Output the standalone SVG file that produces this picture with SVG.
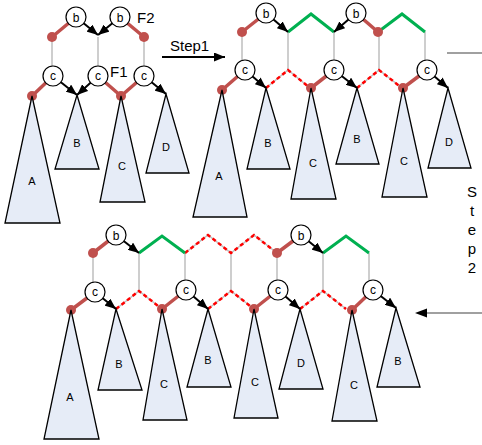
<svg xmlns="http://www.w3.org/2000/svg" width="482" height="445" viewBox="0 0 482 445">
  <style>
    .grid { stroke: #bfbfbf; stroke-width: 1.5; fill: none; }
    .dash { stroke: #ff0000; stroke-width: 2.5; stroke-dasharray: 4 3; fill: none; }
    .red { stroke: #c0504d; stroke-width: 3.5; fill: none; stroke-linecap: round; }
    .green { stroke: #00b050; stroke-width: 3; fill: none; stroke-linejoin: miter; }
    .arr { stroke: #000; stroke-width: 2; fill: none; marker-end: url(#head); }
    .dot { fill: #c0504d; }
    .tri { fill: #e6ecf7; stroke: #000; stroke-width: 1.3; stroke-linejoin: miter; }
    .node { fill: #fff; stroke: #000; stroke-width: 1.2; }
    .lbl { font-family: "Liberation Sans", Arial, sans-serif; font-size: 11px; text-anchor: middle; fill: #000; }
    .nt { font-family: "Liberation Sans", Arial, sans-serif; font-size: 12px; text-anchor: middle; fill: #000; }
    .big { font-family: "Liberation Sans", Arial, sans-serif; font-size: 15px; fill: #000; }
    .step { font-family: "Liberation Sans", Arial, sans-serif; font-size: 15px; text-anchor: middle; fill: #000; }
  </style>
  <defs>
    <marker id="head" markerUnits="userSpaceOnUse" markerWidth="11" markerHeight="9" refX="11" refY="4.5" orient="auto">
      <path d="M0,0 L11,4.5 L0,9 z" fill="#000"/>
    </marker>
  </defs>
  <rect width="482" height="445" fill="#fff"/>

  <g id="connectors">
    <!-- forest before step 1 -->
    <path class="grid" d="M52,37 V66 M98,37 V66 M144,37 V66"/>
    <path class="red" d="M76,17 L52,37 M120,17 L144,37 M53,76 L32,96 M98,76 L121,96 M144,76 L121,96"/>
    <path class="arr" d="M76,17 L98,35"/>
    <path class="arr" d="M120,17 L98,35"/>
    <path class="arr" d="M53,76 L77,95"/>
    <path class="arr" d="M98,76 L77,95"/>
    <path class="arr" d="M144,76 L166,94"/>
    <circle class="dot" cx="52" cy="37" r="5"/>
    <circle class="dot" cx="144" cy="37" r="5"/>
    <circle class="dot" cx="32" cy="96" r="5"/>
    <circle class="dot" cx="121" cy="96" r="5"/>

    <!-- forest after step 1 -->
    <path class="grid" d="M242,32 V60 M288,32 V70 M334,32 V60 M379,32 V70 M425,32 V60"/>
    <path class="grid" d="M266,88 L288,70 L310,88 M357,88 L379,70 L402,88 M378,32 L402,14 L425,32"/>
    <path class="dash" d="M266,88 L288,70 L310,88 M357,88 L379,70 L402,88"/>
    <path class="red" d="M266,13 L242,32 M356,13 L378,32 M245,70 L222,90 M334,70 L311,88 M427,70 L403,88"/>
    <path class="green" d="M288,32 L311,14 L334,32 M378,32 L402,14 L425,32"/>
    <path class="arr" d="M266,13 L288,32"/>
    <path class="arr" d="M356,13 L334,32"/>
    <path class="arr" d="M245,70 L266,88"/>
    <path class="arr" d="M334,70 L357,88"/>
    <path class="arr" d="M427,70 L448,88"/>
    <circle class="dot" cx="242" cy="32" r="5"/>
    <circle class="dot" cx="378" cy="32" r="5"/>
    <circle class="dot" cx="222" cy="90" r="5"/>
    <circle class="dot" cx="311" cy="88" r="5"/>
    <circle class="dot" cx="403" cy="88" r="5"/>

    <!-- forest after step 2 -->
    <path class="grid" d="M93,253 V282 M139,253 V291 M185,253 V280 M231,253 V291 M277,253 V280 M323,253 V291 M369,253 V280"/>
    <path class="grid" d="M185,253 L208,235 L231,253 L254,235 L277,253 M116,309 L139,291 L162,309 M208,309 L231,291 L254,309 M300,309 L323,291 L346,309"/>
    <path class="dash" d="M185,253 L208,235 L231,253 L254,235 L277,253 M116,309 L139,291 L162,309 M208,309 L231,291 L254,309 M300,309 L323,291 L346,309"/>
    <path class="red" d="M116,235 L93,253 M301,235 L277,253 M95,292 L71,310 M186,290 L162,309 M278,290 L254,309 M373,290 L352,310"/>
    <path class="green" d="M139,253 L162,236 L185,253 M323,253 L346,236 L369,253"/>
    <path class="arr" d="M116,235 L139,253"/>
    <path class="arr" d="M301,235 L323,253"/>
    <path class="arr" d="M95,292 L116,309"/>
    <path class="arr" d="M186,290 L208,309"/>
    <path class="arr" d="M278,290 L300,309"/>
    <path class="arr" d="M373,290 L396,308"/>
    <circle class="dot" cx="93" cy="253" r="5"/>
    <circle class="dot" cx="277" cy="253" r="5"/>
    <circle class="dot" cx="71" cy="310" r="5"/>
    <circle class="dot" cx="162" cy="309" r="5"/>
    <circle class="dot" cx="254" cy="309" r="5"/>
    <circle class="dot" cx="352" cy="310" r="5"/>

    <!-- step arrows -->
    <path class="arr" d="M162,57 L225,57" stroke-width="1.5"/>
    <path d="M447,53 H482" stroke="#808080" stroke-width="1.5"/>
    <path d="M482,313 H425" stroke="#808080" stroke-width="1.5"/>
    <path d="M415,313 L427,308.5 L427,317.5 z" fill="#000"/>
  </g>

  <!-- subtrees, first forest -->
  <g id="t1A"><path class="tri" d="M32,96 L60,223 L5,223 z"/><text class="lbl" x="32" y="185">A</text></g>
  <g id="t1B"><path class="tri" d="M77,95 L99,169 L55,169 z"/><text class="lbl" x="77" y="147">B</text></g>
  <g id="t1C"><path class="tri" d="M121,96 L145,202 L100,202 z"/><text class="lbl" x="122" y="170">C</text></g>
  <g id="t1D"><path class="tri" d="M166,94 L189,173 L146,173 z"/><text class="lbl" x="166" y="151">D</text></g>

  <!-- subtrees, second forest -->
  <g id="t2A"><path class="tri" d="M222,90 L247,217 L193,217 z"/><text class="lbl" x="219" y="180">A</text></g>
  <g id="t2B"><path class="tri" d="M266,88 L290,169 L247,169 z"/><text class="lbl" x="268" y="147">B</text></g>
  <g id="t2C"><path class="tri" d="M311,88 L336,199 L291,199 z"/><text class="lbl" x="313" y="167">C</text></g>
  <g id="t2B2"><path class="tri" d="M357,88 L379,164 L336,164 z"/><text class="lbl" x="357" y="143">B</text></g>
  <g id="t2C2"><path class="tri" d="M403,88 L427,197 L382,197 z"/><text class="lbl" x="404" y="165">C</text></g>
  <g id="t2D"><path class="tri" d="M448,88 L471,168 L428,168 z"/><text class="lbl" x="449" y="146">D</text></g>

  <!-- subtrees, third forest -->
  <g id="t3A"><path class="tri" d="M71,310 L99,439 L44,439 z"/><text class="lbl" x="70" y="401">A</text></g>
  <g id="t3B"><path class="tri" d="M116,309 L142,390 L98,390 z"/><text class="lbl" x="119" y="368">B</text></g>
  <g id="t3C"><path class="tri" d="M162,309 L187,420 L143,420 z"/><text class="lbl" x="164" y="388">C</text></g>
  <g id="t3B2"><path class="tri" d="M208,309 L231,387 L187,387 z"/><text class="lbl" x="208" y="364">B</text></g>
  <g id="t3C2"><path class="tri" d="M254,309 L278,418 L234,418 z"/><text class="lbl" x="255" y="386">C</text></g>
  <g id="t3D"><path class="tri" d="M300,309 L323,389 L279,389 z"/><text class="lbl" x="301" y="367">D</text></g>
  <g id="t3C3"><path class="tri" d="M352,310 L377,421 L332,421 z"/><text class="lbl" x="354" y="389">C</text></g>
  <g id="t3B3"><path class="tri" d="M396,308 L420,387 L377,387 z"/><text class="lbl" x="398" y="365">B</text></g>

  <!-- tree nodes, first forest -->
  <g id="n1b1"><circle class="node" cx="76" cy="17" r="10"/><text class="nt" x="76" y="21.5">b</text></g>
  <g id="n1b2"><circle class="node" cx="120" cy="17" r="10"/><text class="nt" x="120" y="21.5">b</text></g>
  <g id="n1c1"><circle class="node" cx="53" cy="76" r="10"/><text class="nt" x="53" y="79.5">c</text></g>
  <g id="n1c2"><circle class="node" cx="98" cy="76" r="10"/><text class="nt" x="98" y="79.5">c</text></g>
  <g id="n1c3"><circle class="node" cx="144" cy="76" r="10"/><text class="nt" x="144" y="79.5">c</text></g>

  <!-- tree nodes, second forest -->
  <g id="n2b1"><circle class="node" cx="266" cy="13" r="10"/><text class="nt" x="266" y="17.5">b</text></g>
  <g id="n2b2"><circle class="node" cx="356" cy="13" r="10"/><text class="nt" x="356" y="17.5">b</text></g>
  <g id="n2c1"><circle class="node" cx="245" cy="70" r="10"/><text class="nt" x="245" y="73.5">c</text></g>
  <g id="n2c2"><circle class="node" cx="334" cy="70" r="10"/><text class="nt" x="334" y="73.5">c</text></g>
  <g id="n2c3"><circle class="node" cx="427" cy="70" r="10"/><text class="nt" x="427" y="73.5">c</text></g>

  <!-- tree nodes, third forest -->
  <g id="n3b1"><circle class="node" cx="116" cy="235" r="10"/><text class="nt" x="116" y="239.5">b</text></g>
  <g id="n3b2"><circle class="node" cx="301" cy="235" r="10"/><text class="nt" x="301" y="239.5">b</text></g>
  <g id="n3c1"><circle class="node" cx="95" cy="292" r="10"/><text class="nt" x="95" y="295.5">c</text></g>
  <g id="n3c2"><circle class="node" cx="186" cy="290" r="10"/><text class="nt" x="186" y="293.5">c</text></g>
  <g id="n3c3"><circle class="node" cx="278" cy="290" r="10"/><text class="nt" x="278" y="293.5">c</text></g>
  <g id="n3c4"><circle class="node" cx="373" cy="290" r="10"/><text class="nt" x="373" y="293.5">c</text></g>

  <!-- labels -->
  <text class="big" x="137" y="23">F2</text>
  <text class="big" x="110" y="77">F1</text>
  <text class="big" x="170" y="51">Step1</text>
  <g id="step2">
    <text class="step" x="472" y="197">S</text>
    <text class="step" x="472" y="216">t</text>
    <text class="step" x="472" y="235">e</text>
    <text class="step" x="472" y="254">p</text>
    <text class="step" x="472" y="273">2</text>
  </g>
</svg>
